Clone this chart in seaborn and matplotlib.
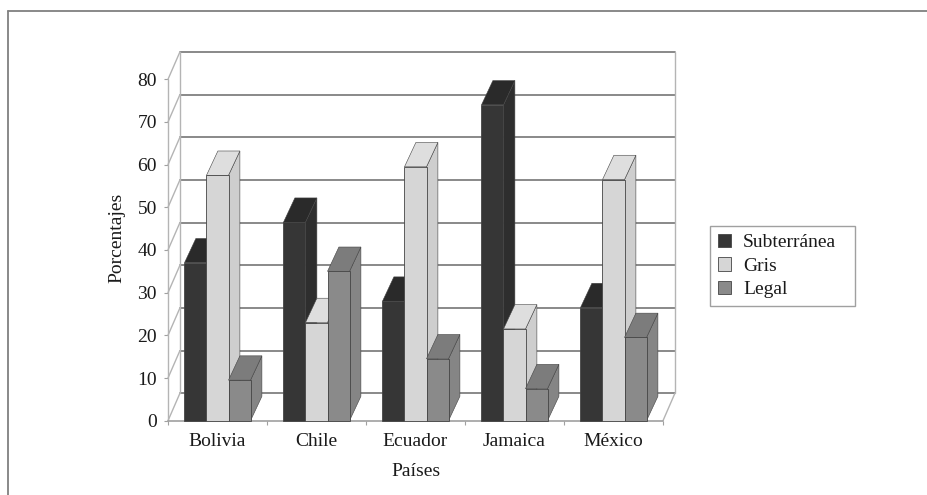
import pandas as pd
import seaborn as sns
import matplotlib.pyplot as plt
from matplotlib.lines import Line2D
from matplotlib.patches import Polygon

# Values
paises = ["Bolivia", "Chile", "Ecuador", "Jamaica", "México"]
subterranea = [37, 46.5, 28, 74, 26.5]
gris = [57.5, 23, 59.5, 21.5, 56.5]
legal = [9.5, 35, 14.5, 7.5, 19.5]
ticks_y = [0, 10, 20, 30, 40, 50, 60, 70, 80]

df = pd.DataFrame({
    "Países": paises * 3,
    "Porcentajes": subterranea + gris + legal,
    "Serie": ["Subterránea"] * 5 + ["Gris"] * 5 + ["Legal"] * 5
})

colores = {"Subterránea": "#363636", "Gris": "#d6d6d6", "Legal": "#8a8a8a"}
lados = {"Subterránea": "#2e2e2e", "Gris": "#cecece", "Legal": "#858585"}
tapas = {"Subterránea": "#2a2a2a", "Gris": "#dedede", "Legal": "#7c7c7c"}

# depth of walls and bars, in data units
wall_dx = 0.12
wall_dy = 6.4
bar_dx = 0.115
bar_dy = 5.7

sns.set_style("white")
plt.rcParams["font.family"] = ["Liberation Serif"]

fig = plt.figure(figsize=(9.28, 4.95), dpi=100)
ax = fig.add_axes([168 / 928, 1 - 420.7 / 495, 495 / 928, 341.4 / 495])

sns.barplot(
    data=df, x="Países", y="Porcentajes", hue="Serie",
    palette=colores, width=0.667, gap=0, saturation=1,
    edgecolor="#444444", linewidth=0.6, ax=ax
)

ax.set_xlim(-0.5, 4.5)
ax.set_ylim(0, 80)
sns.despine(ax=ax, left=True, bottom=True)
ax.patch.set_alpha(0)

# back wall, side wall and floor
grid = "#757575"
side = "#b4b4b4"
for v in ticks_y:
    ax.plot([-0.5 + wall_dx, 4.5 + wall_dx], [v + wall_dy, v + wall_dy],
            color=grid, lw=1.2, clip_on=False, zorder=1)
    ax.plot([-0.5, -0.5 + wall_dx], [v, v + wall_dy],
            color=side, lw=1, clip_on=False, zorder=1)
ax.plot([-0.5, -0.5], [0, 80], color=side, lw=1, clip_on=False, zorder=1)
ax.plot([-0.5 + wall_dx] * 2, [wall_dy, 80 + wall_dy], color=side, lw=1, clip_on=False, zorder=1)
ax.plot([4.5 + wall_dx] * 2, [wall_dy, 80 + wall_dy], color=side, lw=1, clip_on=False, zorder=1)
ax.plot([4.5, 4.5 + wall_dx], [0, wall_dy], color=side, lw=1, clip_on=False, zorder=1)
ax.plot([-0.5, 4.5], [0, 0], color="#a0a0a0", lw=1.2, clip_on=False, zorder=1)

# 3D faces on every bar, painted left to right
barras = []
for serie, cont in zip(colores, ax.containers):
    for b in cont:
        barras.append((b.get_x(), serie, b))
barras.sort(key=lambda t: t[0])

borde = "#444444"
for i, (x0, serie, b) in enumerate(barras):
    z = 3 + i
    x1 = x0 + b.get_width()
    h = b.get_height()
    b.set_zorder(z + 0.5)
    b.set_clip_on(False)
    cara = Polygon([(x1, 0), (x1 + bar_dx, bar_dy), (x1 + bar_dx, h + bar_dy), (x1, h)],
                   facecolor=lados[serie], edgecolor=borde, lw=0.4, zorder=z, clip_on=False)
    tapa = Polygon([(x0, h), (x0 + bar_dx, h + bar_dy), (x1 + bar_dx, h + bar_dy), (x1, h)],
                   facecolor=tapas[serie], edgecolor=borde, lw=0.4, zorder=z, clip_on=False)
    ax.add_patch(cara)
    ax.add_patch(tapa)

# ticks and labels
ax.set_yticks(ticks_y)
ax.set_xticks(range(5))
ax.set_xticks([-0.5, 0.5, 1.5, 2.5, 3.5, 4.5], minor=True)
ax.tick_params(axis="x", which="major", length=0, pad=9, labelsize=14, colors="#1a1a1a")
ax.tick_params(axis="x", which="minor", length=3, width=0.8, color="#a0a0a0", bottom=True)
ax.tick_params(axis="y", length=3, width=0.8, color="#a0a0a0", left=True, pad=5,
               labelsize=14, labelcolor="#1a1a1a")
ax.set_xlabel("Países", fontsize=14, labelpad=9, color="#1a1a1a")
ax.set_ylabel("Porcentajes", fontsize=14, color="#1a1a1a")
ax.yaxis.set_label_coords(-0.086, 0.535)

# legend
handles, labels = ax.get_legend_handles_labels()
ax.legend(handles, labels, loc="upper left",
          bbox_to_anchor=(710 / 928, 1 - 307 / 495, 145 / 928, 81 / 495), mode="expand",
          bbox_transform=fig.transFigure, fontsize=14, frameon=True, fancybox=False,
          edgecolor="#a0a0a0", framealpha=1, handlelength=0.7, handleheight=0.7,
          handletextpad=0.6, labelspacing=0.3, borderpad=0.4, borderaxespad=0,
          labelcolor="#1a1a1a")

# outer frame, top and left only
fig.add_artist(Line2D([7.5 / 928, 1], [1 - 11 / 495, 1 - 11 / 495],
                      transform=fig.transFigure, color="#808080", lw=1.3))
fig.add_artist(Line2D([7.5 / 928, 7.5 / 928], [1 - 11 / 495, 0],
                      transform=fig.transFigure, color="#808080", lw=1.3))

plt.savefig("out.png", dpi=100)
plt.close()
